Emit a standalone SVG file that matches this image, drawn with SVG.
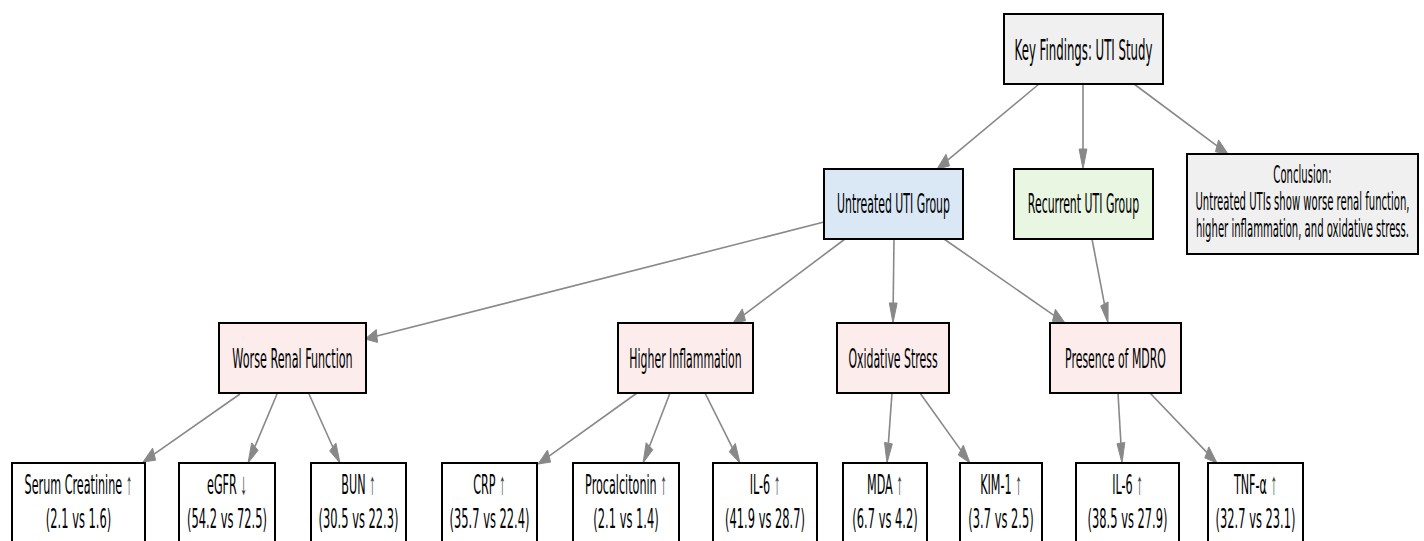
<svg xmlns="http://www.w3.org/2000/svg" width="1424" height="541" viewBox="0 0 1424 541">
<style>
.box{stroke:#000;stroke-width:2}
.grey{fill:#f0f0f0}
.blue{fill:#dae8f5}
.green{fill:#e9f6e1}
.pink{fill:#fcecec}
.white{fill:#fff}
text{font-family:"DejaVu Sans","Liberation Sans",sans-serif;font-size:26px;fill:#000;text-anchor:middle}
.big{font-size:29px}
.small{font-size:24px}
.ar{font-family:"Liberation Sans","DejaVu Sans",sans-serif;font-size:31px;fill:#333}
.edge line{stroke:#888;stroke-width:1.6}
.edge polygon{fill:#888;stroke:#888;stroke-width:1}
</style>
<rect width="1424" height="541" fill="#fff"/>
<g id="connectors" class="edge">
<line x1="1039" y1="84" x2="947.7" y2="160.1"/><polygon points="937,169 946,154.3 949.5,165.9"/>
<line x1="1083" y1="84" x2="1083" y2="149"/><polygon points="1083,169 1079.1,149 1086.9,149"/>
<line x1="1134" y1="84" x2="1217" y2="145.8"/><polygon points="1228,154 1215.4,151.8 1218.6,139.9"/>
<line x1="824" y1="222" x2="376.9" y2="336"/><polygon points="365,339 376.3,329.6 377.5,342.4"/>
<line x1="845" y1="239" x2="743.9" y2="314.8"/><polygon points="733,323 742.3,308.9 745.5,320.7"/>
<line x1="894" y1="239" x2="893.2" y2="303"/><polygon points="893,323 889.3,302.9 897.1,303.1"/>
<line x1="944" y1="239" x2="1053.9" y2="315.3"/><polygon points="1065,323 1052.4,321.3 1055.4,309.3"/>
<line x1="1092" y1="239" x2="1104.4" y2="303.9"/><polygon points="1108,323 1100.7,305.9 1108.1,301.9"/>
<line x1="240" y1="394" x2="154.1" y2="454.2"/><polygon points="143,462 152.6,448.2 155.6,460.2"/>
<line x1="277" y1="394" x2="254.9" y2="446.6"/><polygon points="248,463 251.7,442.9 258.1,450.3"/>
<line x1="309" y1="394" x2="332.8" y2="447"/><polygon points="340,463 329.7,450.9 335.9,443.1"/>
<line x1="637" y1="393" x2="549" y2="456.1"/><polygon points="538,464 547.5,450.1 550.6,462.1"/>
<line x1="670" y1="393" x2="649.5" y2="446.2"/><polygon points="643,463 646.2,442.7 652.8,449.7"/>
<line x1="705" y1="393" x2="732.3" y2="447.6"/><polygon points="740,463 729.3,451.8 735.3,443.5"/>
<line x1="892" y1="393" x2="888.4" y2="443.1"/><polygon points="887,463 884.5,442.4 892.3,443.9"/>
<line x1="920" y1="393" x2="960.8" y2="450.1"/><polygon points="970,463 958.3,455.1 963.3,445.2"/>
<line x1="1118" y1="393" x2="1120.9" y2="443.1"/><polygon points="1122,463 1117,443.7 1124.8,442.5"/>
<line x1="1150" y1="393" x2="1206.8" y2="452.4"/><polygon points="1217,463 1204.8,457.9 1208.9,446.9"/>
</g>
<g id="key"><rect class="box grey" x="1004" y="14" width="159" height="70"/><text class="big" transform="translate(1083.5,60) scale(0.405,1)">Key Findings: UTI Study</text></g>
<g id="untreated"><rect class="box blue" x="824" y="169" width="139" height="70"/><text transform="translate(893.5,213) scale(0.42,1)">Untreated UTI Group</text></g>
<g id="recurrent"><rect class="box green" x="1014" y="169" width="139" height="70"/><text transform="translate(1083.5,213) scale(0.42,1)">Recurrent UTI Group</text></g>
<g id="conclusion"><rect class="box grey" x="1187" y="154" width="231" height="100"/>
<text class="small" transform="translate(1302.5,183) scale(0.42,1)">Conclusion:</text>
<text class="small" transform="translate(1302.5,210) scale(0.42,1)">Untreated UTIs show worse renal function,</text>
<text class="small" transform="translate(1302.5,237) scale(0.42,1)">higher inflammation, and oxidative stress.</text></g>
<g id="worse-renal"><rect class="box pink" x="219" y="323" width="147" height="70"/><text transform="translate(292.5,368) scale(0.43,1)">Worse Renal Function</text></g>
<g id="higher-inflammation"><rect class="box pink" x="618" y="323" width="135" height="70"/><text transform="translate(685.5,368) scale(0.42,1)">Higher Inflammation</text></g>
<g id="oxidative-stress"><rect class="box pink" x="837" y="323" width="112" height="70"/><text transform="translate(893,368) scale(0.42,1)">Oxidative Stress</text></g>
<g id="mdro"><rect class="box pink" x="1050" y="323" width="131" height="70"/><text transform="translate(1115.5,368) scale(0.42,1)">Presence of MDRO</text></g>
<g id="serum-creatinine"><rect class="box white" x="12" y="463" width="133" height="100"/><text transform="translate(78.5,494) scale(0.43,1)">Serum Creatinine <tspan class="ar">↑</tspan></text><text transform="translate(78.5,528) scale(0.44,1)">(2.1 vs 1.6)</text></g>
<g id="egfr"><rect class="box white" x="179" y="463" width="96" height="100"/><text transform="translate(227,494) scale(0.43,1)">eGFR <tspan class="ar">↓</tspan></text><text transform="translate(227,528) scale(0.44,1)">(54.2 vs 72.5)</text></g>
<g id="bun"><rect class="box white" x="311" y="463" width="95" height="100"/><text transform="translate(358.5,494) scale(0.43,1)">BUN <tspan class="ar">↑</tspan></text><text transform="translate(358.5,528) scale(0.44,1)">(30.5 vs 22.3)</text></g>
<g id="crp"><rect class="box white" x="442" y="463" width="95" height="100"/><text transform="translate(489.5,494) scale(0.43,1)">CRP <tspan class="ar">↑</tspan></text><text transform="translate(489.5,528) scale(0.44,1)">(35.7 vs 22.4)</text></g>
<g id="procalcitonin"><rect class="box white" x="573" y="463" width="106" height="100"/><text transform="translate(626,494) scale(0.43,1)">Procalcitonin <tspan class="ar">↑</tspan></text><text transform="translate(626,528) scale(0.44,1)">(2.1 vs 1.4)</text></g>
<g id="il6-a"><rect class="box white" x="713" y="463" width="104" height="100"/><text transform="translate(765,494) scale(0.43,1)">IL-6 <tspan class="ar">↑</tspan></text><text transform="translate(765,528) scale(0.44,1)">(41.9 vs 28.7)</text></g>
<g id="mda"><rect class="box white" x="843" y="463" width="84" height="100"/><text transform="translate(885,494) scale(0.43,1)">MDA <tspan class="ar">↑</tspan></text><text transform="translate(885,528) scale(0.44,1)">(6.7 vs 4.2)</text></g>
<g id="kim1"><rect class="box white" x="960" y="463" width="82" height="100"/><text transform="translate(1001,494) scale(0.43,1)">KIM-1 <tspan class="ar">↑</tspan></text><text transform="translate(1001,528) scale(0.44,1)">(3.7 vs 2.5)</text></g>
<g id="il6-b"><rect class="box white" x="1076" y="463" width="103" height="100"/><text transform="translate(1127.5,494) scale(0.43,1)">IL-6 <tspan class="ar">↑</tspan></text><text transform="translate(1127.5,528) scale(0.44,1)">(38.5 vs 27.9)</text></g>
<g id="tnf"><rect class="box white" x="1208" y="463" width="95" height="100"/><text transform="translate(1255.5,494) scale(0.43,1)">TNF-α <tspan class="ar">↑</tspan></text><text transform="translate(1255.5,528) scale(0.44,1)">(32.7 vs 23.1)</text></g>
</svg>
